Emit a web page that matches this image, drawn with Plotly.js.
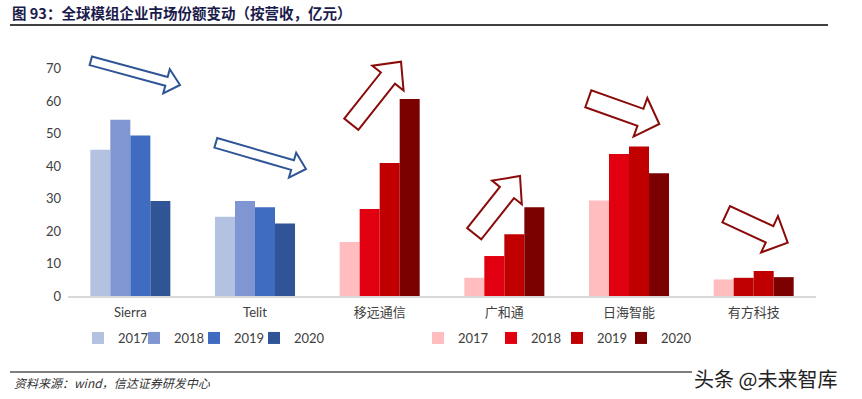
<!DOCTYPE html>
<html>
<head>
<meta charset="utf-8">
<script src="https://cdn.plot.ly/plotly-3.0.1.min.js"></script>
<style>html,body{margin:0;padding:0;background:#fff;}#chart{width:862px;height:399px;}</style>
</head>
<body>
<div id="chart"></div>
<script>
// ---- data ----
var categories = ['Sierra', 'Telit', '移远通信', '广和通', '日海智能', '有方科技'];
var foreignCompanies = ['Sierra', 'Telit'];
var domesticCompanies = ['移远通信', '广和通', '日海智能', '有方科技'];
var years = ['2017', '2018', '2019', '2020'];
var foreign2017 = [45.0, 24.4];
var foreign2018 = [54.2, 29.2];
var foreign2019 = [49.4, 27.3];
var foreign2020 = [29.2, 22.3];
var domestic2017 = [16.6, 5.6, 29.4, 5.1];
var domestic2018 = [26.8, 12.3, 43.7, 5.6];
var domestic2019 = [40.9, 19.0, 46.0, 7.7];
var domestic2020 = [60.6, 27.3, 37.8, 5.8];
var yTicks = [0, 10, 20, 30, 40, 50, 60, 70];

// ---- layout geometry (pixels) ----
var W = 862, H = 399;
var M = {l: 68, r: 46, t: 62, b: 103};
var plotW = W - M.l - M.r, plotH = H - M.t - M.b;
function px(x) { return (x - M.l) / plotW; }
function py(y) { return (H - M.b - y) / plotH; }

var blueColors = ['#B4C2E1', '#7F96D2', '#3F6BC0', '#2F5597'];
var redColors = ['#FFBDC0', '#E0000F', '#C00000', '#7B0000'];
var foreignSeries = [foreign2017, foreign2018, foreign2019, foreign2020];
var domesticSeries = [domestic2017, domestic2018, domestic2019, domestic2020];
var blueLegendW = [11, 15, 15, 34];
var redLegendW = [28, 21, 19, 34];

var font = "Lato, 'Noto Sans CJK SC', sans-serif";
var traces = [];
years.forEach(function (yr, i) {
  traces.push({
    type: 'bar', name: yr, x: foreignCompanies, y: foreignSeries[i],
    offsetgroup: yr, marker: {color: blueColors[i]}, legend: 'legend',
    legendwidth: blueLegendW[i], hoverinfo: 'x+y+name'
  });
});
years.forEach(function (yr, i) {
  var c = redColors[i];
  var colors = domesticCompanies.map(function (d, k) {
    return (i === 1 && k === 3) ? redColors[2] : c;
  });
  traces.push({
    type: 'bar', name: yr, x: domesticCompanies, y: domesticSeries[i],
    offsetgroup: yr, marker: {color: colors}, legend: 'legend2',
    legendwidth: redLegendW[i], hoverinfo: 'x+y+name'
  });
});

// ---- decorative block arrows (pixel geometry) ----
var arrows = [
  {t: [90.8, 60.8], h: [180, 85], sw: 9, hw: 25, hl: 14, c: '#2F5597'},
  {t: [215.8, 142.8], h: [306, 169], sw: 10, hw: 26, hl: 14, c: '#2F5597'},
  {t: [351.3, 124.2], h: [401, 61.7], sw: 18, hw: 40, hl: 21, c: '#8B0A0A'},
  {t: [474.2, 233.7], h: [520, 176], sw: 18, hw: 38, hl: 21, c: '#8B0A0A'},
  {t: [588.3, 98.8], h: [659.3, 124], sw: 18, hw: 41, hl: 20, c: '#8B0A0A'},
  {t: [726.2, 214.2], h: [787.7, 242.7], sw: 18, hw: 40, hl: 20, c: '#8B0A0A'}
];
function arrowPath(a) {
  var dx = a.h[0] - a.t[0], dy = a.h[1] - a.t[1];
  var L = Math.sqrt(dx * dx + dy * dy);
  var ux = dx / L, uy = dy / L, nx = -uy, ny = ux;
  var bx = a.h[0] - ux * a.hl, by = a.h[1] - uy * a.hl;
  var pts = [
    [a.t[0] + nx * a.sw / 2, a.t[1] + ny * a.sw / 2],
    [bx + nx * a.sw / 2, by + ny * a.sw / 2],
    [bx + nx * a.hw / 2, by + ny * a.hw / 2],
    [a.h[0], a.h[1]],
    [bx - nx * a.hw / 2, by - ny * a.hw / 2],
    [bx - nx * a.sw / 2, by - ny * a.sw / 2],
    [a.t[0] - nx * a.sw / 2, a.t[1] - ny * a.sw / 2]
  ];
  return 'M' + pts.map(function (p) { return px(p[0]).toFixed(5) + ',' + py(p[1]).toFixed(5); }).join('L') + 'Z';
}
var shapes = arrows.map(function (a) {
  return {type: 'path', xref: 'paper', yref: 'paper', path: arrowPath(a),
          fillcolor: '#FFFFFF', line: {color: a.c, width: 2}, layer: 'above'};
});
// title underline and source separator
shapes.push({type: 'line', xref: 'paper', yref: 'paper', x0: px(10), x1: px(828), y0: py(25), y1: py(25),
             line: {color: '#000000', width: 1.5}});
shapes.push({type: 'line', xref: 'paper', yref: 'paper', x0: px(10), x1: px(692), y0: py(372), y1: py(372),
             line: {color: '#000000', width: 1.2}});

var legendCommon = {orientation: 'h', xanchor: 'left', yanchor: 'middle', yref: 'paper', xref: 'paper',
  font: {family: font, size: 13, color: '#404040'}, bgcolor: 'rgba(0,0,0,0)',
  itemwidth: 30, itemclick: false, itemdoubleclick: false, traceorder: 'normal'};

var layout = {
  width: W, height: H,
  margin: M,
  paper_bgcolor: '#FFFFFF', plot_bgcolor: '#FFFFFF',
  font: {family: font, size: 13, color: '#404040'},
  title: {
    text: '<b>图 93：全球模组企业市场份额变动（按营收，亿元）</b>',
    font: {family: "'Noto Sans CJK SC', sans-serif", size: 14.5, color: '#1B1B4B'},
    xref: 'container', yref: 'container', x: 12 / W, xanchor: 'left', y: 1 - 14 / H, yanchor: 'middle'
  },
  barmode: 'group', bargap: 0.358, bargroupgap: 0,
  xaxis: {
    type: 'category', categoryorder: 'array', categoryarray: categories,
    showline: true, linecolor: '#D9D9D9', linewidth: 1.5, ticks: '', showgrid: false,
    tickfont: {family: font, size: 13, color: '#404040'}, ticklabelstandoff: 4, fixedrange: true
  },
  yaxis: {
    range: [0, 72], tickvals: yTicks, showgrid: false, zeroline: false, showline: false, ticks: '',
    tickfont: {family: font, size: 13, color: '#404040'}, ticklabelstandoff: 6, fixedrange: true
  },
  legend: Object.assign({}, legendCommon, {x: px(78), y: py(338)}),
  legend2: Object.assign({}, legendCommon, {x: px(418), y: py(338)}),
  shapes: shapes,
  annotations: [
    {text: '<i>资料来源：wind，信达证券研发中心</i>', xref: 'paper', yref: 'paper', x: px(12), y: py(382),
     xanchor: 'left', yanchor: 'middle', showarrow: false,
     font: {family: "'Noto Sans CJK SC', 'Liberation Sans', sans-serif", size: 12, color: '#333333'}},
    {text: '头条 @未来智库', xref: 'paper', yref: 'paper', x: px(692), y: py(378),
     xanchor: 'left', yanchor: 'middle', showarrow: false, bgcolor: '#FFFFFF',
     font: {family: "'Noto Sans CJK SC', sans-serif", size: 20, color: '#222222'}}
  ],
  showlegend: true
};

Plotly.newPlot('chart', traces, layout, {displayModeBar: false, staticPlot: true});
</script>
</body>
</html>
